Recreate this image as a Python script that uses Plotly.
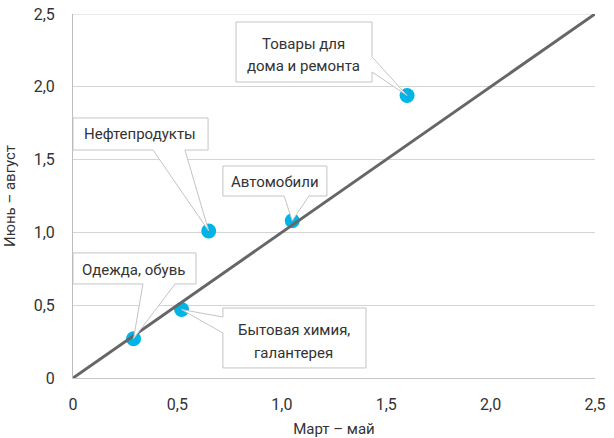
import plotly.graph_objects as go

# ---- data ----
categories = ["Товары для<br>дома и ремонта", "Нефтепродукты", "Автомобили",
              "Одежда, обувь", "Бытовая химия,<br>галантерея"]
mar_may = [1.60, 0.65, 1.05, 0.29, 0.52]
jun_aug = [1.94, 1.01, 1.08, 0.27, 0.47]
diag_x = [0, 2.5]
diag_y = [0, 2.5]
tick_vals = [0, 0.5, 1.0, 1.5, 2.0, 2.5]
tick_text = ["0", "0,5", "1,0", "1,5", "2,0", "2,5"]

# ---- callout layout (data units): box x0,x1,y0(bottom),y1(top), wedge side and base span, text lines centre ----
callouts = [
    dict(box=(0.781, 1.432, 2.033, 2.445), side="right", base=(2.102, 2.205),
         text=[("Товары для", 1.106, 2.294), ("дома и ремонта", 1.106, 2.143)]),
    dict(box=(0.0, 0.647, 1.566, 1.786), side="bottom", base=(0.383, 0.536),
         text=[("Нефтепродукты", 0.321, 1.676)]),
    dict(box=(0.718, 1.216, 1.250, 1.456), side="bottom", base=(1.011, 1.130),
         text=[("Автомобили", 0.967, 1.346)]),
    dict(box=(0.0, 0.589, 0.646, 0.859), side="bottom", base=(0.335, 0.489),
         text=[("Одежда, обувь", 0.292, 0.742)]),
    dict(box=(0.718, 1.403, 0.069, 0.481), side="left", base=(0.309, 0.419),
         text=[("Бытовая химия,", 1.058, 0.330), ("галантерея", 1.058, 0.172)]),
]

FONT = "Roboto"
GRID = "#d4d4d4"
fig = go.Figure()
fig.add_trace(go.Scatter(x=mar_may, y=jun_aug, mode="markers",
                         marker=dict(color="#00b4e8", size=15), hoverinfo="skip",
                         showlegend=False))
fig.add_trace(go.Scatter(x=diag_x, y=diag_y, mode="lines",
                         line=dict(color="#666666", width=3), hoverinfo="skip",
                         showlegend=False))

# top gridline (plotly drops gridlines sitting on the plot edge)
shapes = [dict(type="line", xref="paper", yref="y", x0=0, x1=1,
               y0=tick_vals[-1], y1=tick_vals[-1], layer="below",
               line=dict(color=GRID, width=1))]
annotations = []
for c, px, py in zip(callouts, mar_may, jun_aug):
    x0, x1, y0, y1 = c["box"]
    b0, b1 = c["base"]
    if c["side"] == "bottom":
        pts = [(x0, y0), (b0, y0), (px, py), (b1, y0), (x1, y0), (x1, y1), (x0, y1)]
    elif c["side"] == "right":
        pts = [(x0, y0), (x1, y0), (x1, b0), (px, py), (x1, b1), (x1, y1), (x0, y1)]
    else:  # left
        pts = [(x0, y0), (x1, y0), (x1, y1), (x0, y1), (x0, b1), (px, py), (x0, b0)]
    path = "M " + " L ".join(f"{a},{b}" for a, b in pts) + " Z"
    shapes.append(dict(type="path", path=path, xref="x", yref="y", layer="above",
                       fillcolor="white", line=dict(color="#c4c4c4", width=1)))
    for t, tx, ty in c["text"]:
        annotations.append(dict(text=t, x=tx, y=ty, xref="x", yref="y", showarrow=False,
                                font=dict(family=FONT, size=15, color="#333333"),
                                xanchor="center", yanchor="middle"))

fig.update_layout(
    width=614, height=438,
    margin=dict(l=73, r=19, t=14, b=60),
    paper_bgcolor="white", plot_bgcolor="white",
    font=dict(family=FONT, size=14, color="#333333"),
    shapes=shapes, annotations=annotations,
    xaxis=dict(range=[0, 2.5], tickvals=tick_vals, ticktext=tick_text, automargin=False,
               showgrid=False, zeroline=False, showline=True, linecolor="#c8c8c8",
               linewidth=1, ticks="",
               ticklabelstandoff=12,
               title=dict(text="Март – май", font=dict(size=15), standoff=14),
               tickfont=dict(size=16, color="#333333")),
    yaxis=dict(range=[0, 2.5], tickvals=tick_vals, ticktext=tick_text, automargin=False,
               showgrid=True, gridcolor=GRID, gridwidth=1,
               zeroline=False, showline=True, linecolor="#bdbdbd", linewidth=1, ticks="",
               ticklabelstandoff=14,
               title=dict(text="Июнь – август", font=dict(size=15), standoff=14),
               tickfont=dict(size=16, color="#333333")),
)
fig.write_html("out.html", config={"displayModeBar": False},
               post_script="document.body.style.margin='0';document.body.style.padding='0';")
